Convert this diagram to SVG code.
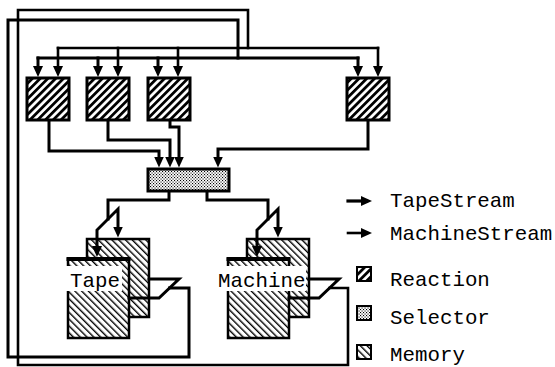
<svg xmlns="http://www.w3.org/2000/svg" width="555" height="367" viewBox="0 0 555 367">
<style>
.ln{fill:none;stroke:#000;stroke-width:3;stroke-linecap:square;stroke-linejoin:miter}
.ms{stroke-width:2.6}
.arr{marker-end:url(#ah)}
.both{marker-start:url(#ah);marker-end:url(#ah)}
.react{fill:url(#hReact);stroke:#000;stroke-width:3}
.sel{fill:url(#hSel);stroke:#000;stroke-width:3}
.mem{fill:url(#hMem);stroke:#000;stroke-width:2.5}
.top{stroke:#000;stroke-width:4}
.band{fill:#fff}
.t{font-family:"Liberation Mono","DejaVu Sans Mono",monospace;font-size:20.8px;fill:#000}
</style>
<defs>
<marker id="ah" viewBox="0 0 11 10" refX="5" refY="5" markerWidth="11" markerHeight="10" markerUnits="userSpaceOnUse" orient="auto-start-reverse">
<path d="M0,0 L11,5 L0,10 z" fill="#000"/>
</marker>
<pattern id="hReact" width="5.5" height="10" patternUnits="userSpaceOnUse" patternTransform="rotate(45)">
<rect width="5.5" height="10" fill="#fff"/><rect width="2.8" height="10" fill="#000"/>
</pattern>
<pattern id="hMem" width="4.8" height="10" patternUnits="userSpaceOnUse" patternTransform="rotate(-45)">
<rect width="4.8" height="10" fill="#fff"/><rect width="1.4" height="10" fill="#000"/>
</pattern>
<pattern id="hSel" width="3" height="3" patternUnits="userSpaceOnUse">
<rect width="3" height="3" fill="#fff"/><rect width="1.1" height="1.1" fill="#000"/><rect x="1.5" y="1.5" width="1.1" height="1.1" fill="#000"/>
</pattern>
</defs>
<rect width="555" height="367" fill="#fff"/>

<g id="reaction1"><rect class="react" x="27" y="78" width="42" height="42"/></g>
<g id="reaction2"><rect class="react" x="87" y="78" width="42" height="42"/></g>
<g id="reaction3"><rect class="react" x="148" y="78" width="42" height="42"/></g>
<g id="reaction4"><rect class="react" x="347" y="78" width="42" height="42"/></g>
<g id="selector"><rect class="sel" x="148" y="169" width="81" height="22"/></g>

<g id="tape">
<rect class="mem" x="87" y="239" width="62" height="78"/>
<rect class="mem" x="68" y="259" width="61" height="79"/>
<line class="top" x1="66.5" y1="259" x2="130.5" y2="259"/>
<rect class="band" x="66" y="266" width="56" height="25"/>
<text class="t" x="70" y="287">Tape</text>
</g>
<g id="machine">
<rect class="mem" x="247" y="239" width="62" height="78"/>
<rect class="mem" x="228" y="259" width="61" height="79"/>
<line class="top" x1="226.5" y1="259" x2="290.5" y2="259"/>
<rect class="band" x="214" y="266" width="92" height="25"/>
<text class="t" x="218" y="287">Machine</text>
</g>

<g id="connectors">
<!-- TapeStream loop -->
<path class="ln" d="M169.5,288 H189 V357 H8 V20 H238 V58"/>
<path class="ln" d="M38,58 H358"/>
<path class="ln arr" d="M38,58 V71"/>
<path class="ln arr" d="M98,58 V71"/>
<path class="ln arr" d="M158,58 V71"/>
<path class="ln arr" d="M358,58 V71"/>
<!-- MachineStream loop -->
<path class="ln ms" d="M329.5,288 H348 V365 H18 V10 H248 V48"/>
<path class="ln ms" d="M58,48 H378"/>
<path class="ln ms arr" d="M58,48 V71"/>
<path class="ln ms arr" d="M118,48 V71"/>
<path class="ln ms arr" d="M178,48 V71"/>
<path class="ln ms arr" d="M378,48 V71"/>
<!-- reactions to selector -->
<path class="ln arr" d="M49,121.5 V151 H159 V161.5"/>
<path class="ln arr" d="M108,121.5 V140 H170 V161.5"/>
<path class="ln arr" d="M170,121.5 V127 H179 V161.5"/>
<path class="ln arr" d="M368,121.5 V149 H218 V161.5"/>
<!-- selector to memories -->
<path class="ln" d="M169,192.5 V200 H108 V219"/>
<path class="ln both" d="M97,251 V230 L118,209 V231.5"/>
<path class="ln" d="M207,192.5 V200 H268 V219"/>
<path class="ln both" d="M257,251 V230 L278,209 V231.5"/>
<!-- memory ports -->
<path class="ln" d="M149,279 H179 L159,298 H129"/>
<path class="ln" d="M309,279 H339 L319,298 H289"/>
</g>

<g id="legend">
<path class="ln arr" style="stroke-width:3.2" d="M348,201 H366"/>
<text class="t" x="390" y="207">TapeStream</text>
<path class="ln ms arr" d="M348,233 H366"/>
<text class="t" x="390" y="240">MachineStream</text>
<rect class="react" style="stroke-width:2" x="357" y="267" width="14" height="14"/>
<text class="t" x="390" y="286">Reaction</text>
<rect class="sel" style="stroke-width:2" x="357" y="306" width="14" height="14"/>
<text class="t" x="390" y="324">Selector</text>
<rect class="mem" style="stroke-width:2" x="357" y="345" width="14" height="14"/>
<text class="t" x="390" y="361">Memory</text>
</g>
</svg>
